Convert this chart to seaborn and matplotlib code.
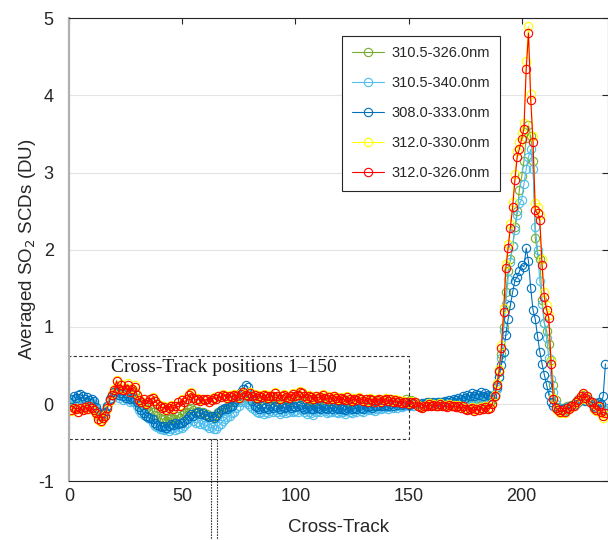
import matplotlib
matplotlib.use("Agg")
import matplotlib.pyplot as plt
import numpy as np
import pandas as pd
import seaborn as sns

# cross-track positions 1..237
cross_track = list(range(1, 238))

scd_3105_3260 = [
    -0.02, 0.0, -0.03, -0.05, 0.0, -0.03, 0.01, -0.02, 0.02, -0.01,
    -0.04, -0.08, -0.15, -0.17, -0.14, -0.1, -0.02, 0.06, 0.12, 0.15,
    0.22, 0.16, 0.18, 0.14, 0.15, 0.18, 0.1, 0.14, 0.15, 0.08,
    0.0, -0.03, -0.02, -0.06, -0.08, -0.06, -0.1, -0.14, -0.16, -0.18,
    -0.2, -0.19, -0.22, -0.2, -0.18, -0.2, -0.19, -0.16, -0.18, -0.14,
    -0.12, -0.1, -0.06, -0.05, -0.08, -0.1, -0.09, -0.12, -0.11, -0.14,
    -0.13, -0.16, -0.15, -0.17, -0.14, -0.11, -0.1, -0.07, -0.06, -0.04,
    -0.02, 0.0, 0.02, 0.03, 0.05, 0.08, 0.1, 0.09, 0.08, 0.1,
    0.06, 0.07, 0.04, 0.06, 0.05, 0.08, 0.06, 0.04, 0.07, 0.06,
    0.09, 0.06, 0.03, 0.06, 0.08, 0.05, 0.04, 0.06, 0.09, 0.06,
    0.08, 0.1, 0.09, 0.06, 0.04, 0.07, 0.05, 0.03, 0.06, 0.04,
    0.05, 0.08, 0.05, 0.03, 0.05, 0.04, 0.07, 0.05, 0.02, 0.05,
    0.04, 0.02, 0.06, 0.03, 0.02, 0.05, 0.03, 0.06, 0.04, 0.02,
    0.04, 0.02, 0.05, 0.03, 0.01, 0.04, 0.05, 0.02, 0.04, 0.06,
    0.03, 0.05, 0.02, 0.04, 0.01, 0.03, 0.01, 0.03, 0.06, 0.04,
    0.05, 0.02, 0.03, 0.0, -0.02, -0.03, -0.01, 0.0, 0.02, 0.0,
    0.01, -0.01, 0.0, 0.02, -0.01, 0.0, -0.02, 0.01, -0.01, 0.0,
    -0.02, 0.0, -0.03, -0.01, 0.0, 0.02, 0.01, 0.03, 0.0, 0.02,
    0.01, 0.03, 0.02, 0.04, 0.02, 0.03, 0.05, 0.12, 0.25, 0.42,
    0.65, 1.0, 1.45, 1.72, 1.88, 2.05, 2.3, 2.5, 2.78, 2.95,
    3.15, 3.45, 3.62, 3.47, 3.15, 2.15, 1.95, 1.88, 1.35, 1.05,
    0.95, 0.78, 0.57, 0.25, 0.05, -0.04, -0.07, -0.05, -0.08, -0.03,
    -0.04, -0.01, 0.0, 0.03, 0.06, 0.09, 0.12, 0.07, 0.09, 0.04,
    0.03, -0.03, -0.05, 0.0, -0.06, -0.1, -0.08,
]

scd_3105_3400 = [
    0.03, 0.06, 0.04, 0.02, 0.07, 0.04, 0.06, 0.02, 0.05, 0.03,
    0.0, -0.06, -0.1, -0.13, -0.12, -0.09, -0.02, 0.04, 0.08, 0.1,
    0.12, 0.08, 0.1, 0.05, 0.06, 0.08, 0.02, 0.04, 0.03, -0.02,
    -0.08, -0.12, -0.14, -0.16, -0.18, -0.2, -0.24, -0.28, -0.3, -0.32,
    -0.33, -0.34, -0.32, -0.35, -0.33, -0.31, -0.34, -0.32, -0.3, -0.31,
    -0.28, -0.25, -0.2, -0.18, -0.22, -0.24, -0.23, -0.26, -0.25, -0.27,
    -0.28, -0.31, -0.3, -0.33, -0.32, -0.28, -0.26, -0.22, -0.2, -0.17,
    -0.15, -0.12, -0.1, -0.05, -0.02, 0.02, 0.04, 0.02, 0.0, -0.03,
    -0.05, -0.08, -0.1, -0.12, -0.1, -0.13, -0.11, -0.12, -0.09, -0.11,
    -0.08, -0.1, -0.13, -0.11, -0.09, -0.12, -0.1, -0.08, -0.11, -0.09,
    -0.1, -0.07, -0.08, -0.11, -0.13, -0.1, -0.12, -0.14, -0.11, -0.09,
    -0.1, -0.07, -0.09, -0.12, -0.1, -0.11, -0.08, -0.1, -0.12, -0.1,
    -0.11, -0.13, -0.09, -0.1, -0.12, -0.09, -0.1, -0.07, -0.09, -0.1,
    -0.07, -0.08, -0.06, -0.08, -0.09, -0.06, -0.05, -0.07, -0.05, -0.04,
    -0.06, -0.04, -0.05, -0.03, -0.05, -0.02, -0.04, -0.02, -0.01, -0.03,
    0.0, -0.02, 0.01, -0.01, -0.02, 0.0, -0.02, 0.01, -0.01, 0.0,
    0.01, -0.01, 0.02, 0.0, 0.01, 0.03, 0.01, 0.02, 0.04, 0.02,
    0.03, 0.05, 0.03, 0.06, 0.04, 0.07, 0.05, 0.08, 0.06, 0.09,
    0.07, 0.1, 0.08, 0.11, 0.09, 0.1, 0.1, 0.1, 0.2, 0.35,
    0.6, 0.95, 1.3, 1.62, 1.84, 2.05, 2.25, 2.45, 2.6, 2.65,
    2.85, 3.05, 3.2, 3.3, 3.05, 2.3, 2.0, 1.6, 1.3, 1.05,
    0.85, 0.6, 0.32, 0.15, 0.0, -0.05, -0.08, -0.06, -0.09, -0.04,
    -0.05, -0.02, -0.01, 0.02, 0.05, 0.07, 0.1, 0.05, 0.07, 0.03,
    0.02, -0.03, -0.04, 0.0, -0.05, -0.07, -0.05,
]

scd_3080_3330 = [
    0.06, 0.1, 0.08, 0.12, 0.13, 0.1, 0.07, 0.09, 0.05, 0.06,
    0.04, -0.04, -0.1, -0.13, -0.12, -0.1, -0.03, 0.06, 0.12, 0.15,
    0.16, 0.12, 0.14, 0.1, 0.08, 0.1, 0.06, 0.08, 0.06, 0.02,
    -0.04, -0.08, -0.12, -0.15, -0.17, -0.18, -0.2, -0.24, -0.27, -0.28,
    -0.3, -0.29, -0.31, -0.28, -0.26, -0.27, -0.25, -0.26, -0.24, -0.25,
    -0.22, -0.2, -0.15, -0.13, -0.16, -0.12, -0.11, -0.13, -0.12, -0.14,
    -0.15, -0.17, -0.16, -0.18, -0.15, -0.12, -0.08, -0.06, -0.05, -0.07,
    -0.04, -0.02, 0.02, 0.06, 0.1, 0.15, 0.2, 0.25, 0.22, 0.12,
    0.04, -0.02, -0.04, -0.06, -0.03, -0.05, -0.04, -0.06, -0.03, -0.05,
    -0.02, -0.04, -0.06, -0.03, -0.05, -0.04, -0.02, -0.05, -0.03, -0.04,
    -0.03, -0.01, -0.04, -0.06, -0.05, -0.03, -0.06, -0.07, -0.04, -0.05,
    -0.06, -0.03, -0.05, -0.07, -0.04, -0.06, -0.03, -0.05, -0.07, -0.05,
    -0.06, -0.08, -0.05, -0.04, -0.07, -0.05, -0.06, -0.03, -0.05, -0.06,
    -0.03, -0.04, -0.02, -0.05, -0.03, -0.02, -0.01, -0.03, -0.02, -0.01,
    -0.02, 0.0, -0.02, 0.01, -0.01, 0.01, -0.01, 0.0, 0.01, -0.01,
    0.01, 0.0, 0.02, 0.0, -0.01, 0.01, 0.0, 0.02, 0.0, 0.01,
    0.02, 0.0, 0.03, 0.01, 0.02, 0.04, 0.02, 0.05, 0.04, 0.06,
    0.05, 0.08, 0.06, 0.1, 0.08, 0.12, 0.1, 0.14, 0.11, 0.13,
    0.12, 0.15, 0.11, 0.14, 0.12, 0.1, 0.1, 0.12, 0.22, 0.35,
    0.5, 0.68, 0.9, 1.1, 1.28, 1.45, 1.6, 1.65, 1.72, 1.8,
    1.78, 2.02, 1.85, 1.5, 1.22, 1.1, 0.88, 0.68, 0.52, 0.38,
    0.25, 0.12, 0.03, -0.02, -0.05, -0.08, -0.06, -0.09, -0.05, -0.07,
    -0.04, -0.02, -0.03, 0.0, 0.03, 0.05, 0.08, 0.04, 0.06, 0.02,
    0.0, -0.02, 0.01, 0.03, 0.0, 0.1, 0.52,
]

scd_3120_3300 = [
    -0.09, -0.06, -0.05, -0.11, -0.06, -0.07, -0.05, -0.07, -0.03, -0.06,
    -0.09, -0.13, -0.21, -0.23, -0.19, -0.14, -0.06, 0.04, 0.13, 0.19,
    0.31, 0.21, 0.26, 0.2, 0.21, 0.27, 0.16, 0.21, 0.24, 0.13,
    0.06, 0.04, 0.07, 0.01, 0.03, 0.07, 0.09, 0.05, 0.01, -0.01,
    -0.04, -0.03, -0.07, -0.04, -0.01, -0.05, -0.02, 0.03, -0.01, 0.06,
    0.03, 0.07, 0.13, 0.15, 0.09, 0.06, 0.08, 0.05, 0.07, 0.06,
    0.07, 0.03, 0.06, 0.09, 0.07, 0.11, 0.1, 0.13, 0.11, 0.09,
    0.12, 0.1, 0.13, 0.11, 0.09, 0.14, 0.16, 0.13, 0.11, 0.15,
    0.11, 0.13, 0.09, 0.12, 0.1, 0.13, 0.11, 0.09, 0.12, 0.11,
    0.15, 0.11, 0.08, 0.11, 0.13, 0.1, 0.09, 0.11, 0.14, 0.11,
    0.13, 0.17, 0.15, 0.11, 0.09, 0.12, 0.1, 0.08, 0.11, 0.09,
    0.1, 0.13, 0.09, 0.07, 0.1, 0.08, 0.11, 0.09, 0.06, 0.09,
    0.08, 0.06, 0.1, 0.07, 0.05, 0.08, 0.06, 0.09, 0.07, 0.05,
    0.07, 0.04, 0.08, 0.06, 0.03, 0.06, 0.07, 0.04, 0.06, 0.08,
    0.05, 0.07, 0.04, 0.06, 0.03, 0.05, 0.02, 0.04, 0.03, 0.01,
    0.04, 0.02, 0.03, -0.01, -0.03, -0.04, -0.02, -0.01, 0.01, -0.01,
    0.0, -0.02, -0.01, 0.01, -0.02, -0.01, -0.03, 0.0, -0.02, -0.01,
    -0.03, -0.01, -0.04, -0.02, -0.05, -0.07, -0.06, -0.04, -0.08, -0.05,
    -0.07, -0.04, -0.06, -0.03, -0.05, -0.04, 0.01, 0.12, 0.27, 0.46,
    0.76, 1.24, 1.82, 2.08, 2.34, 2.62, 2.98, 3.28, 3.4, 3.52,
    3.64, 4.45, 4.9, 4.02, 3.48, 2.6, 2.55, 2.45, 1.88, 1.45,
    1.28, 1.16, 0.56, 0.08, -0.06, -0.09, -0.12, -0.09, -0.12, -0.06,
    -0.07, -0.04, -0.03, 0.01, 0.04, 0.09, 0.13, 0.07, 0.09, 0.02,
    0.01, -0.06, -0.09, -0.04, -0.12, -0.18, -0.14,
]

scd_3120_3260 = [
    -0.08, -0.05, -0.06, -0.1, -0.05, -0.08, -0.04, -0.06, -0.02, -0.05,
    -0.08, -0.12, -0.2, -0.22, -0.18, -0.15, -0.05, 0.05, 0.12, 0.18,
    0.3, 0.2, 0.25, 0.18, 0.2, 0.25, 0.15, 0.2, 0.22, 0.12,
    0.05, 0.03, 0.06, 0.0, 0.02, 0.06, 0.08, 0.04, 0.0, -0.02,
    -0.05, -0.04, -0.08, -0.05, -0.02, -0.06, -0.03, 0.02, -0.02, 0.05,
    0.02, 0.06, 0.12, 0.14, 0.08, 0.05, 0.07, 0.04, 0.06, 0.05,
    0.06, 0.02, 0.05, 0.08, 0.06, 0.1, 0.09, 0.12, 0.1, 0.08,
    0.11, 0.09, 0.12, 0.1, 0.08, 0.13, 0.15, 0.12, 0.1, 0.14,
    0.1, 0.12, 0.08, 0.11, 0.09, 0.12, 0.1, 0.08, 0.11, 0.1,
    0.14, 0.1, 0.07, 0.1, 0.12, 0.09, 0.08, 0.1, 0.13, 0.1,
    0.12, 0.16, 0.14, 0.1, 0.08, 0.11, 0.09, 0.07, 0.1, 0.08,
    0.09, 0.12, 0.08, 0.06, 0.09, 0.07, 0.1, 0.08, 0.05, 0.08,
    0.07, 0.05, 0.09, 0.06, 0.04, 0.07, 0.05, 0.08, 0.06, 0.04,
    0.06, 0.03, 0.07, 0.05, 0.02, 0.05, 0.06, 0.03, 0.05, 0.07,
    0.04, 0.06, 0.03, 0.05, 0.02, 0.04, 0.01, 0.03, 0.02, 0.0,
    0.03, 0.01, 0.02, -0.02, -0.04, -0.05, -0.03, -0.02, 0.0, -0.02,
    -0.01, -0.03, -0.02, 0.0, -0.03, -0.02, -0.04, -0.01, -0.03, -0.02,
    -0.04, -0.02, -0.05, -0.03, -0.06, -0.08, -0.07, -0.05, -0.09, -0.06,
    -0.08, -0.05, -0.07, -0.04, -0.06, -0.05, 0.0, 0.1, 0.24, 0.43,
    0.72, 1.19, 1.76, 2.02, 2.28, 2.55, 2.9, 3.2, 3.31, 3.44,
    3.57, 4.34, 4.81, 3.94, 3.4, 2.51, 2.47, 2.38, 1.8, 1.39,
    1.22, 1.11, 0.52, 0.06, -0.05, -0.08, -0.1, -0.08, -0.1, -0.05,
    -0.06, -0.03, -0.02, 0.02, 0.05, 0.1, 0.14, 0.08, 0.1, 0.03,
    0.02, -0.05, -0.08, -0.03, -0.1, -0.15, -0.12,
]

series_labels = ["310.5-326.0nm", "310.5-340.0nm", "308.0-333.0nm",
                 "312.0-330.0nm", "312.0-326.0nm"]
series_values = [scd_3105_3260, scd_3105_3400, scd_3080_3330,
                 scd_3120_3300, scd_3120_3260]
series_colors = ["#77AC30", "#4DBEEE", "#0072BD", "#FFFF00", "#FF0000"]

sns.set_style("white")
plt.rcParams["font.family"] = ["Liberation Sans", "DejaVu Sans"]
plt.rcParams["axes.unicode_minus"] = False

fig = plt.figure(figsize=(6.08, 5.4), dpi=100)
ax = fig.add_axes([0.1135, 0.109, 0.886, 0.857])

for label, values, color in zip(series_labels, series_values, series_colors):
    frame = pd.DataFrame({"x": cross_track, "y": values})
    sns.lineplot(
        data=frame, x="x", y="y", ax=ax, color=color, label=label,
        marker="o", markersize=6, markerfacecolor="none",
        markeredgecolor=color, markeredgewidth=0.8, linewidth=0.8,
    )

ax.set_xlim(0, 238)
ax.set_ylim(-1, 5)
ax.set_xticks([0, 50, 100, 150, 200])
ax.set_yticks([-1, 0, 1, 2, 3, 4, 5])
ax.yaxis.grid(True, color="#e3e3e3", linewidth=0.8)
ax.set_axisbelow(True)
ax.tick_params(direction="in", length=4, width=0.8, colors="#262626",
               labelsize=13, top=True, right=True)
ax.tick_params(axis="y", pad=11)
ax.tick_params(axis="x", pad=5)
for side in ["top", "bottom", "right"]:
    ax.spines[side].set_color("#262626")
    ax.spines[side].set_linewidth(0.8)
ax.spines["left"].set_color("#b0b0b0")
ax.spines["left"].set_linewidth(1.6)

ax.set_xlabel("Cross-Track", fontsize=13.5, color="#262626", labelpad=10)
ax.set_ylabel("Averaged SO$_2$ SCDs (DU)", fontsize=13.5, color="#262626",
              labelpad=0)

# dashed box around the first 150 positions
ax.plot([0, 150, 150, 0, 0], [-0.45, -0.45, 0.62, 0.62, -0.45],
        linestyle=(0, (3, 2)), color="#333333", linewidth=0.8)
ax.text(18.5, 0.47, "Cross-Track positions 1\u2013150",
        family="Liberation Serif", fontsize=14, ha="left", va="center",
        color="#1a1a1a")
ax.plot([62.8, 62.8, 65.4, 65.4], [-1.9, -0.46, -0.46, -1.9],
        linestyle=(0, (1.5, 1)), color="#333333", linewidth=0.8,
        clip_on=False)

leg = ax.legend(loc="upper left", bbox_to_anchor=(0.5625, 0.9333),
                bbox_transform=fig.transFigure, fontsize=10.5,
                frameon=True, fancybox=False, edgecolor="#262626",
                framealpha=1, handlelength=2.2, labelspacing=1.1,
                borderpad=0.7, handletextpad=0.5, borderaxespad=0)
leg.get_frame().set_linewidth(0.8)

fig.savefig("out.png", dpi=100)
